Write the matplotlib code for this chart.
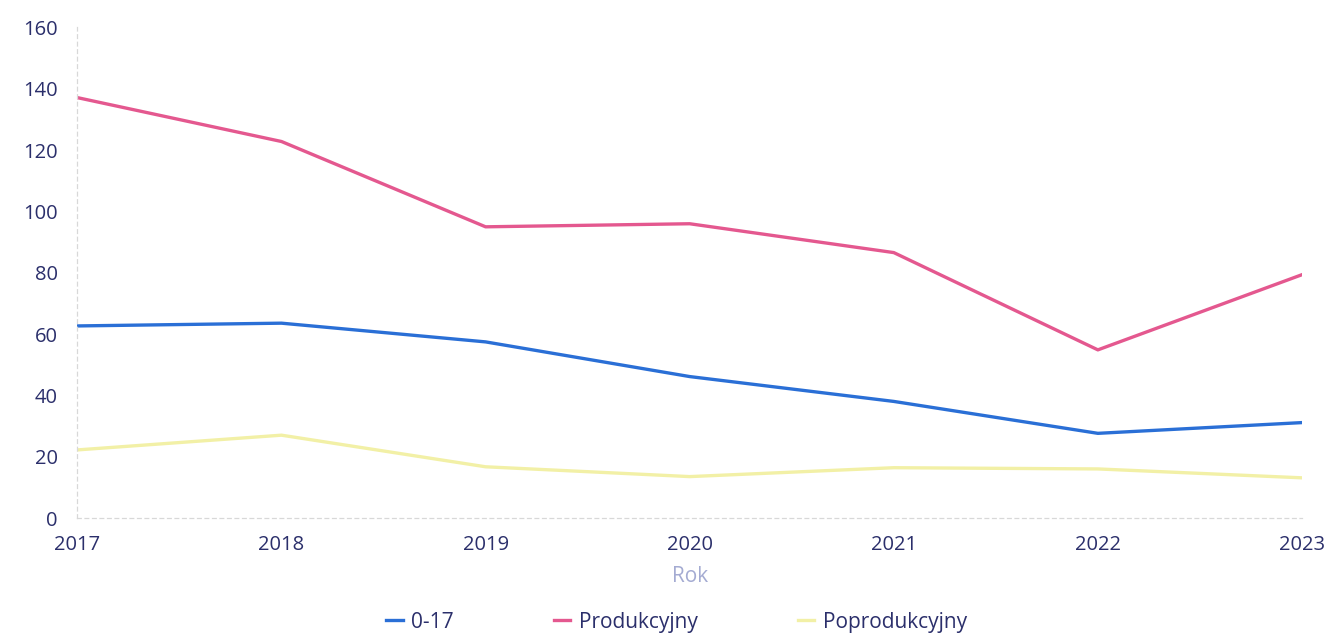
import matplotlib.pyplot as plt

plt.rcParams['font.family'] = ['Open Sans', 'DejaVu Sans']

years = [2017, 2018, 2019, 2020, 2021, 2022, 2023]
age_0_17 = [62.7, 63.6, 57.5, 46.2, 38.1, 27.7, 31.2]
produkcyjny = [137.1, 122.8, 95.0, 96.0, 86.6, 54.9, 79.4]
poprodukcyjny = [22.3, 27.1, 16.8, 13.6, 16.5, 16.1, 13.2]
y_ticks = [0, 20, 40, 60, 80, 100, 120, 140, 160]

text_col = '#2b2f6b'

fig = plt.figure(figsize=(13.34, 6.36), dpi=100)
ax = fig.add_axes([0.058, 0.185, 0.918, 0.772])

ax.plot(years, age_0_17, color='#2a6fd6', lw=2.4, label='0-17')
ax.plot(years, produkcyjny, color='#e4588f', lw=2.4, label='Produkcyjny')
ax.plot(years, poprodukcyjny, color='#f2f0a6', lw=2.4, label='Poprodukcyjny')

ax.set_xlim(2017, 2023)
ax.set_ylim(0, 160)
ax.set_yticks(y_ticks)
ax.set_xticks(years)
ax.tick_params(length=0, labelsize=14.5, labelcolor=text_col)
ax.tick_params(axis='y', pad=14)
ax.tick_params(axis='x', pad=12)

for s in ['top', 'right']:
    ax.spines[s].set_visible(False)
for s in ['left', 'bottom']:
    ax.spines[s].set_color('#d8d8d8')
    ax.spines[s].set_linestyle((0, (3, 3)))
    ax.spines[s].set_linewidth(0.9)

ax.set_xlabel('Rok', fontsize=15, color='#a4abd2', labelpad=8)

fig.legend(loc='center', bbox_to_anchor=(0.507, 0.022), ncol=3, frameon=False,
           fontsize=15, labelcolor=text_col, handlelength=0.8,
           handletextpad=0.4, columnspacing=4.8)

fig.savefig('out.png', dpi=100, facecolor='white')
